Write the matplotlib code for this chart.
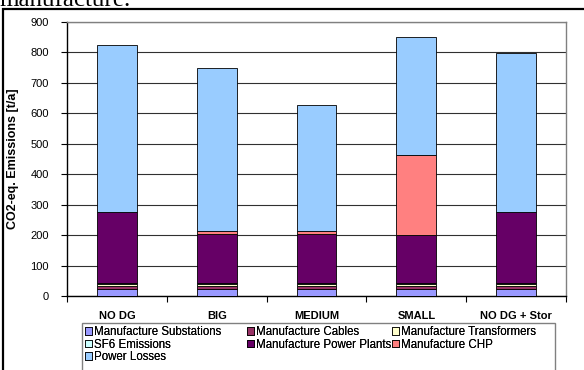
import matplotlib.pyplot as plt
from matplotlib.patches import Rectangle
import numpy as np

# CO2-equivalent emissions per scenario, stacked by source [t/a]
scenarios = ['NO DG', 'BIG', 'MEDIUM', 'SMALL', 'NO DG + Stor']
substations = [22, 22, 22, 22, 22]
cables = [10, 10, 10, 10, 10]
transformers = [8, 8, 8, 8, 8]
sf6 = [2, 2, 2, 2, 2]
power_plants = [233, 161, 161, 158, 233]
chp = [0, 10, 10, 263, 0]
power_losses = [550, 537, 415, 387, 522]

series = [
    ('Manufacture Substations', substations, '#9999FF'),
    ('Manufacture Cables', cables, '#993366'),
    ('Manufacture Transformers', transformers, '#FFFFCC'),
    ('SF6 Emissions', sf6, '#CCFFFF'),
    ('Manufacture Power Plants', power_plants, '#660066'),
    ('Manufacture CHP', chp, '#FF8080'),
    ('Power Losses', power_losses, '#99CCFF'),
]

plt.rcParams['font.family'] = ['Liberation Sans', 'DejaVu Sans']

W, H = 584, 370
fig = plt.figure(figsize=(W / 100, H / 100), dpi=100)


def fx(px):
    return px / W


def fy(py):
    return 1 - py / H


# caption line of the surrounding text, mostly clipped by the top edge
fig.text(fx(-1), fy(6), 'manufacture.', family='Liberation Serif', fontsize=18,
         ha='left', va='baseline')

# outer chart frame
fig.patches.append(Rectangle((fx(3), fy(380)), fx(600), fy(9) - fy(380),
                             transform=fig.transFigure, fill=False,
                             edgecolor='black', linewidth=1.6))

ax = fig.add_axes([fx(67), fy(296), fx(566) - fx(67), fy(22) - fy(296)])

x = np.arange(len(scenarios))
bottom = np.zeros(len(scenarios))
handles = {}
for label, vals, color in series:
    bars = ax.bar(x, vals, 0.4, bottom=bottom, color=color, edgecolor='black',
                  linewidth=0.6, label=label, zorder=3)
    handles[label] = bars
    bottom += np.array(vals)

ax.set_xlim(-0.5, len(scenarios) - 0.5)
ax.set_ylim(0, 900)
ax.set_yticks(range(0, 901, 100))
ax.yaxis.grid(True, color='#303030', linewidth=0.8, zorder=0)
ax.tick_params(axis='y', labelsize=8, length=4, width=0.8, pad=9, direction='out')

ax.set_xticks(x)
ax.set_xticklabels(scenarios, fontsize=8, fontweight='bold')
ax.set_xticks(np.arange(-0.5, len(scenarios)), minor=True)
ax.tick_params(axis='x', which='major', length=0, pad=11)
ax.tick_params(axis='x', which='minor', length=4, width=0.8, direction='out')

ax.set_ylabel('CO2-eq. Emissions [t/a]', fontsize=9, fontweight='bold', labelpad=8)

ax.spines['left'].set_color('black')
ax.spines['bottom'].set_color('black')
ax.spines['top'].set_color('#808080')
ax.spines['right'].set_color('#808080')
for s in ax.spines.values():
    s.set_linewidth(1.0)

# legend box below the plot, one legend per column
fig.patches.append(Rectangle((fx(82), fy(380)), fx(555) - fx(82), fy(323) - fy(380),
                             transform=fig.transFigure, fill=False,
                             edgecolor='#808080', linewidth=1.0))
columns = [
    (85, ['Manufacture Substations', 'SF6 Emissions', 'Power Losses']),
    (247, ['Manufacture Cables', 'Manufacture Power Plants']),
    (392, ['Manufacture Transformers', 'Manufacture CHP']),
]
for left, names in columns:
    leg = fig.legend([handles[k] for k in names], names, ncol=1, frameon=False,
                     loc='upper left', bbox_to_anchor=(fx(left), fy(326)),
                     fontsize=8.3, handlelength=0.6, handleheight=0.6,
                     handletextpad=0.2, labelspacing=0.05, borderpad=0,
                     borderaxespad=0)
    fig.add_artist(leg)

fig.savefig('out.png', dpi=100)
